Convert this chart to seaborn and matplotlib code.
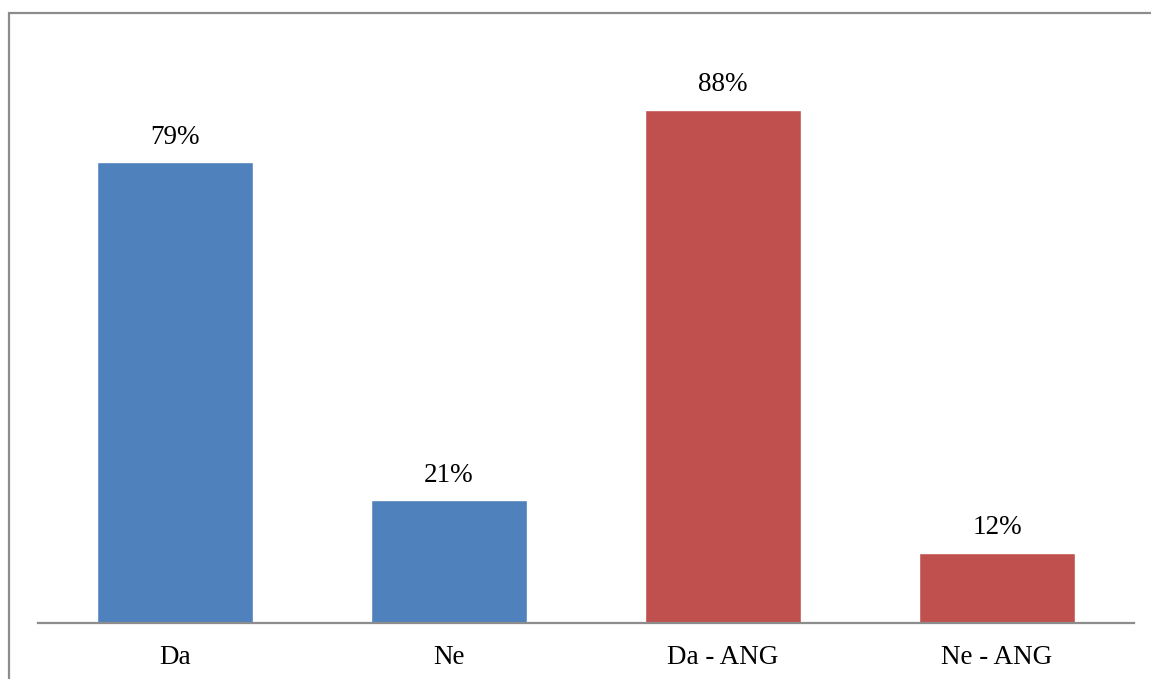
import matplotlib
matplotlib.use("Agg")
import matplotlib.pyplot as plt
import matplotlib.patches as mpatches
import seaborn as sns
import pandas as pd

categories = ["Da", "Ne", "Da - ANG", "Ne - ANG"]
shares = [0.79, 0.21, 0.88, 0.12]
bar_colors = ["#4F81BD", "#4F81BD", "#C0504D", "#C0504D"]

df = pd.DataFrame({"category": categories, "share": shares})

sns.set_style("white")
plt.rcParams["font.family"] = ["Liberation Serif", "DejaVu Serif"]

W, H = 1151, 679
fig = plt.figure(figsize=(W / 100, H / 100), dpi=100)
ax = fig.add_axes([38 / W, (H - 623) / H, (1134 - 38) / W, (623 - 39.5) / H])

sns.barplot(data=df, x="category", y="share", hue="category",
            palette=bar_colors, width=0.57, dodge=False, legend=False,
            saturation=1, ax=ax)

ax.set_ylim(0, 1.0)
ax.set_xlim(-0.5, len(categories) - 0.5)
ax.set_xlabel("")
ax.set_ylabel("")
ax.set_yticks([])
ax.tick_params(axis="x", length=0, pad=16, labelsize=19.5, labelcolor="black")

for side in ["left", "right", "top"]:
    ax.spines[side].set_visible(False)
ax.spines["bottom"].set_color("#8C8C8C")
ax.spines["bottom"].set_linewidth(1.6)

for cont in ax.containers:
    for bar in cont:
        h = bar.get_height()
        ax.annotate(f"{round(h * 100)}%", (bar.get_x() + bar.get_width() / 2, h),
                    xytext=(0, 9), textcoords="offset points",
                    ha="center", va="bottom", fontsize=19.5, color="black")

# outer frame of the chart area
frame = mpatches.Rectangle((8.5 / W, -0.05), 1.2, (H - 12.5) / H + 0.05,
                           transform=fig.transFigure, fill=False,
                           edgecolor="#8C8C8C", linewidth=1.6, clip_on=False)
fig.patches.append(frame)

fig.savefig("out.png", dpi=100)
